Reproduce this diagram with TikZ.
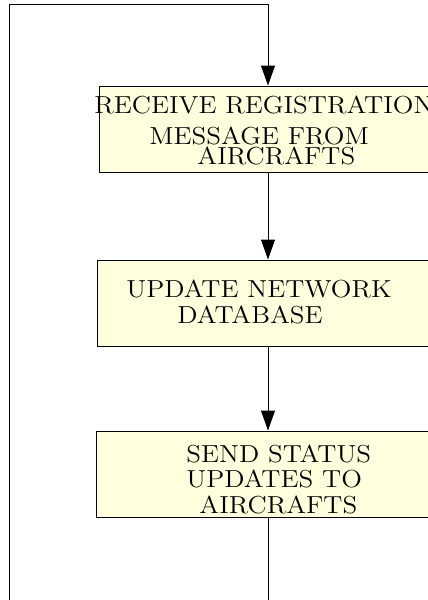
\documentclass[tikz,border=0pt]{standalone}
\usetikzlibrary{arrows.meta}
\definecolor{boxfill}{RGB}{255,255,221}
\newcommand{\wtxt}[1]{\scalebox{1.1}[1]{#1}}
\tikzset{
  procbox/.style={draw=black, line width=0.5pt, fill=boxfill, rectangle, minimum height=43pt, inner sep=0pt},
  txt/.style={anchor=base west, inner sep=0pt, font=\fontsize{12.3pt}{15pt}\selectfont},
  conn/.style={line width=0.5pt, draw=black},
  arr/.style={conn, -{Triangle[length=10pt,width=7pt]}}
}
\begin{document}
\begin{tikzpicture}[x=0.5pt,y=-0.5pt]
\useasboundingbox (0,0) rectangle (428,600);
\clip (0,0) rectangle (428,600);
\fill[white] (0,0) rectangle (428,600);
\node[procbox, minimum width=169pt] (b1) at (268,129) {};
\node[procbox, minimum width=171pt] (b2) at (268,303) {};
\node[procbox, minimum width=172pt] (b3) at (268,474) {};
% texts
\node[txt] (t1a) at (94,113) {\wtxt{RECEIVE REGISTRATION}};
\node[txt] (t1b) at (149,144.5) {\wtxt{MESSAGE FROM}};
\node[txt] (t1c) at (197,164) {\wtxt{AIRCRAFTS}};
\node[txt] (t2a) at (126,297) {\wtxt{UPDATE NETWORK}};
\node[txt] (t2b) at (177,323) {\wtxt{DATABASE}};
\node[txt] (t3a) at (186,462) {\wtxt{SEND STATUS}};
\node[txt] (t3b) at (186,487) {\wtxt{UPDATES TO}};
\node[txt] (t3c) at (199,513) {\wtxt{AIRCRAFTS}};
% connectors
\coordinate (topleft) at (9,4);
\coordinate (below) at (268,640);
\draw[arr] (b1.south) -- (b2.north);
\draw[arr] (b2.south) -- (b3.north);
\draw[arr] (b3.south) -- (below) -| (topleft) -| (b1.north);
\end{tikzpicture}
\end{document}
